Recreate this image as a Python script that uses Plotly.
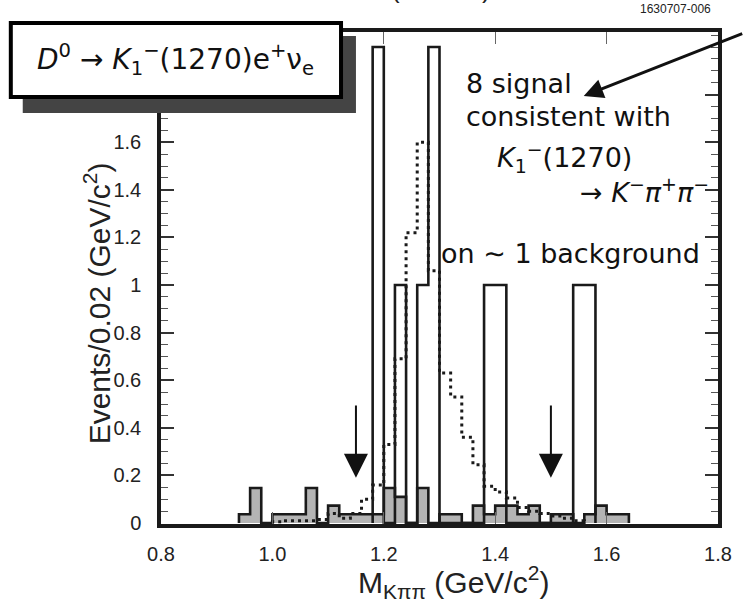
import plotly.graph_objects as go

# ---------------- data ----------------
bin_w = 0.02
# background (grey, filled) histogram: first lower edge and contents
bkg_start = 0.94
bkg_vals = [0.037, 0.147, 0, 0.037, 0.037, 0.037, 0.147, 0, 0.073, 0.037,
            0.037, 0.037, 0.037, 0.147, 0.11, 0, 0.147, 0, 0.037, 0.037,
            0, 0.073, 0.037, 0.073, 0.073, 0.037, 0.073, 0, 0.037, 0.037,
            0, 0.037, 0.073, 0.037, 0.037]
# data (open) histogram
data_start = 1.18
data_vals = [2, 0, 1, 0, 1, 2, 0, 0, 0, 0, 1, 1, 0, 0, 0, 0, 0, 0, 1, 1]
# signal MC (dotted) histogram
mc_start = 1.00
mc_vals = [0.005, 0.01, 0.01, 0.01, 0.015, 0.04, 0.02, 0.04, 0.10, 0.16,
           0.33, 0.69, 1.22, 1.60, 1.06, 0.63, 0.53, 0.36, 0.245, 0.155,
           0.13, 0.105, 0.065, 0.05, 0.04, 0.03, 0.02, 0.01]
# cut positions (arrows)
cut_positions = [1.15, 1.50]
cut_arrow_tip = 0.19
cut_arrow_tail = 0.50

x_ticks = [0.8, 1.0, 1.2, 1.4, 1.6, 1.8]
x_ticklabels = ["0.8", "1.0", "1.2", "1.4", "1.6", "1.8"]
y_ticks = [0, 0.2, 0.4, 0.6, 0.8, 1.0, 1.2, 1.4, 1.6, 1.8]
y_ticklabels = ["0", "0.2", "0.4", "0.6", "0.8", "1", "1.2", "1.4", "1.6", "1.8"]


def step_xy(start, vals):
    edges = [round(start + i * bin_w, 4) for i in range(len(vals) + 1)]
    xs = [edges[0]] + edges
    ys = [0] + list(vals) + [0]
    return xs, ys


# ---------------- geometry helpers (pixels -> paper) ----------------
W, H = 744, 600
PL, PR, PT, PB = 161, 721, 32, 524


def px(x):
    return (x - PL) / (PR - PL)


def py(y):
    return (PB - y) / (PB - PT)


fig = go.Figure()

bx, by = step_xy(bkg_start, bkg_vals)
fig.add_trace(go.Scatter(x=bx, y=by, mode="lines", line_shape="hv",
                         line=dict(color="#1a1a1a", width=2.6),
                         fill="tozeroy", fillcolor="#b4b4b4",
                         hoverinfo="skip", showlegend=False))

dx, dy = step_xy(data_start, data_vals)
fig.add_trace(go.Scatter(x=dx, y=dy, mode="lines", line_shape="hv",
                         line=dict(color="#1a1a1a", width=2.6),
                         hoverinfo="skip", showlegend=False))

mx, my = step_xy(mc_start, mc_vals)
fig.add_trace(go.Scatter(x=mx, y=my, mode="lines", line_shape="hv",
                         line=dict(color="#1a1a1a", width=3, dash="3px,4px"),
                         hoverinfo="skip", showlegend=False))

annotations = []
# cut arrows
for c in cut_positions:
    annotations.append(dict(x=c, y=cut_arrow_tip, ax=c, ay=cut_arrow_tail,
                            xref="x", yref="y", axref="x", ayref="y",
                            text="", showarrow=True, arrowhead=2,
                            arrowsize=2.4, arrowwidth=2, arrowcolor="#111"))

# pointing arrow from top-right to text
annotations.append(dict(x=px(586), y=py(96), xref="paper", yref="paper",
                        ax=160, ay=-63, text="", showarrow=True,
                        arrowhead=2, arrowsize=1.3, arrowwidth=3,
                        arrowcolor="#111"))

txt_font = dict(family="DejaVu Sans", size=27, color="#111")
side_lines = [
    ("8 signal", 466, 83),
    ("consistent with", 466, 117),
    ("<i>K</i><sub>1</sub><sup>−</sup>(1270)", 497, 157),
    ("→ <i>K</i><sup>−</sup><i>π</i><sup>+</sup><i>π</i><sup>−</sup>", 580, 190),
    ("on\u00a0∼\u00a01 background", 440, 253),
]
for t, xx, yy in side_lines:
    annotations.append(dict(x=px(xx), y=py(yy), xref="paper", yref="paper",
                            text=t, showarrow=False, xanchor="left",
                            yanchor="middle", font=txt_font))

# boxed decay label
annotations.append(dict(x=px(176), y=py(60), xref="paper", yref="paper",
                        text="<i>D</i><sup>0</sup> → <i>K</i><sub>1</sub><sup>−</sup>(1270)e<sup>+</sup>ν<sub>e</sub>",
                        showarrow=False, xanchor="center", yanchor="middle",
                        font=dict(family="DejaVu Sans", size=28, color="#111")))

# figure id
annotations.append(dict(x=px(716), y=py(9), xref="paper", yref="paper",
                        text="1630707-006", showarrow=False, xanchor="right",
                        yanchor="middle",
                        font=dict(family="Liberation Sans", size=12, color="#222")))

# clipped remainder of text above
annotations.append(dict(x=px(443), y=py(6), xref="paper", yref="paper",
                        text="(GeV/c<sup>2</sup>)", showarrow=False,
                        xanchor="center", yanchor="bottom",
                        font=dict(family="Liberation Sans", size=26, color="#222")))

title_font = dict(family="Liberation Sans", size=30, color="#222")
# axis titles
annotations.append(dict(x=px(455), y=py(582), xref="paper", yref="paper",
                        text="M<sub>Kππ</sub> (GeV/c<sup>2</sup>)",
                        showarrow=False, xanchor="center", yanchor="middle",
                        font=title_font))
annotations.append(dict(x=px(97), y=py(303), xref="paper", yref="paper",
                        text="Events/0.02 (GeV/c<sup>2</sup>)", textangle=-90,
                        showarrow=False, xanchor="center", yanchor="middle",
                        font=title_font))

shapes = [
    # shadow
    dict(type="rect", xref="paper", yref="paper", layer="above",
         x0=px(22), x1=px(357), y0=py(113), y1=py(36),
         fillcolor="#444444", line=dict(width=0)),
    # box
    dict(type="rect", xref="paper", yref="paper", layer="above",
         x0=px(10), x1=px(342), y0=py(97), y1=py(23),
         fillcolor="white", line=dict(color="#000", width=4)),
]

axis_font = dict(family="Liberation Sans", size=20, color="#222")
fig.update_layout(
    width=W, height=H,
    margin=dict(l=PL, r=W - PR, t=PT, b=H - PB),
    paper_bgcolor="white", plot_bgcolor="white",
    showlegend=False,
    annotations=annotations, shapes=shapes,
    xaxis=dict(range=[0.8, 1.8], tickvals=x_ticks, ticktext=x_ticklabels,
               ticks="inside", ticklen=12, tickwidth=1, tickcolor="#666",
               showline=True, linewidth=3.5, linecolor="#1a1a1a",
               mirror="ticks", showgrid=False, zeroline=False,
               tickfont=axis_font, ticklabelstandoff=9),
    yaxis=dict(range=[-0.004, 2.063], tickvals=y_ticks, ticktext=y_ticklabels,
               ticks="inside", ticklen=13, tickwidth=1.5, tickcolor="#333",
               minor=dict(dtick=0.05, tick0=0, ticks="inside", ticklen=7,
                          tickwidth=1.2, tickcolor="#555"),
               showline=True, linewidth=3.5, linecolor="#1a1a1a",
               mirror="ticks", showgrid=False, zeroline=False,
               tickfont=axis_font, ticklabelstandoff=12),
)

fig.write_html("out.html")
